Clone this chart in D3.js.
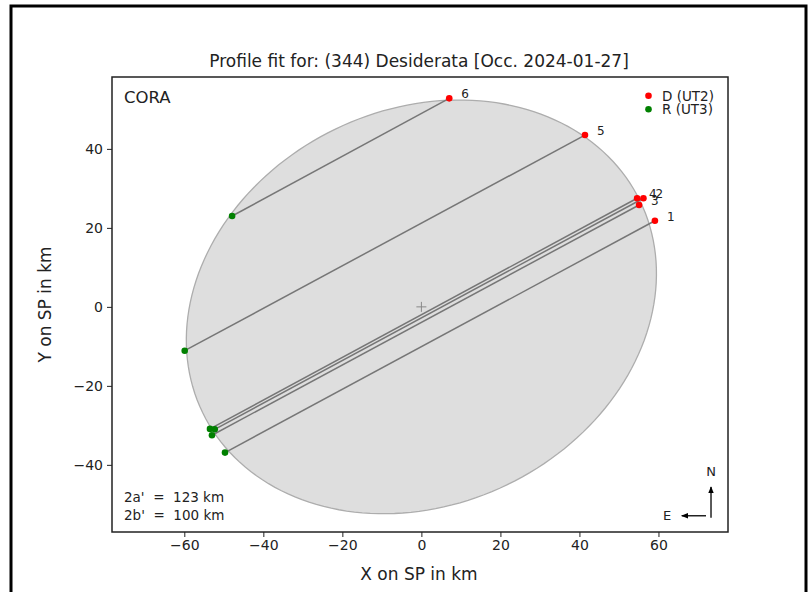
<!DOCTYPE html>
<html>
<head>
<meta charset="utf-8">
<script src="https://cdn.jsdelivr.net/npm/d3@7"></script>
<style>
html,body{margin:0;padding:0;background:#fff;}
svg{display:block;font-family:"DejaVu Sans",sans-serif;}
</style>
</head>
<body>
<svg id="chart" width="811" height="592"></svg>
<script>
// ---- data ----
const chordIds = ["1","2","3","4","5","6"];
const dX = [59.1, 56.2, 55.1, 54.6, 41.4, 7.05];   // disappearance (UT2) x
const dY = [21.8, 27.5, 25.8, 27.5, 43.5, 52.8];   // disappearance (UT2) y
const rX = [-49.7, -52.3, -53.0, -53.5, -59.9, -47.9]; // reappearance (UT3) x
const rY = [-36.9, -31.0, -32.5, -30.9, -11.1, 23.0];  // reappearance (UT3) y
const ellipseAxes = [123, 100];   // 2a', 2b' in km
const ellipseAngle = [25.8];      // deg, major axis from +x
const ellipseCenter = [0, 0];
const xTicks = [-60, -40, -20, 0, 20, 40, 60];
const yTicks = [-40, -20, 0, 20, 40];
const legendLabels = ["D (UT2)", "R (UT3)"];

// ---- layout ----
const svg = d3.select("#chart");
const L = 112, R = 728, T = 77, B = 532;
const x = d3.scaleLinear().domain([-78.3, 77.6]).range([L, R]);
const y = d3.scaleLinear().domain([-57.0, 58.2]).range([B, T]);

// outer frame
svg.append("rect").attr("x", 11).attr("y", 6).attr("width", 795).attr("height", 620)
  .attr("fill", "none").attr("stroke", "#000").attr("stroke-width", 3);

// title
svg.append("text").attr("x", (L + R) / 2 - 1).attr("y", 67).attr("text-anchor", "middle")
  .attr("font-size", 17).attr("fill", "#222")
  .text("Profile fit for: (344) Desiderata [Occ. 2024-01-27]");

const g = svg.append("g");
g.append("defs").append("clipPath").attr("id", "clip").append("rect")
  .attr("x", L).attr("y", T).attr("width", R - L).attr("height", B - T);

const plot = g.append("g").attr("clip-path", "url(#clip)");

// ellipse
const a = ellipseAxes[0] / 2, b = ellipseAxes[1] / 2;
const ang = ellipseAngle[0] * Math.PI / 180;
const pts = d3.range(0, 361, 2).map(t => {
  const tt = t * Math.PI / 180;
  const ex = a * Math.cos(tt), ey = b * Math.sin(tt);
  return [ellipseCenter[0] + ex * Math.cos(ang) - ey * Math.sin(ang),
          ellipseCenter[1] + ex * Math.sin(ang) + ey * Math.cos(ang)];
});
plot.append("path").datum(pts)
  .attr("d", d3.line().x(d => x(d[0])).y(d => y(d[1])).curve(d3.curveLinearClosed))
  .attr("fill", "#dedede").attr("stroke", "#adadad").attr("stroke-width", 1.3);

// center marker
const c0 = [x(ellipseCenter[0]), y(ellipseCenter[1])];
plot.append("path").attr("d", `M${c0[0]-5},${c0[1]}H${c0[0]+5}M${c0[0]},${c0[1]-5}V${c0[1]+5}`)
  .attr("stroke", "#888").attr("stroke-width", 1);

// chords
const chords = chordIds.map((id, i) => ({id, dx: dX[i], dy: dY[i], rx: rX[i], ry: rY[i]}));
plot.selectAll("line.chord").data(chords).enter().append("line")
  .attr("x1", d => x(d.rx)).attr("y1", d => y(d.ry))
  .attr("x2", d => x(d.dx)).attr("y2", d => y(d.dy))
  .attr("stroke", "#767676").attr("stroke-width", 1.5);

plot.selectAll("circle.r").data(chords).enter().append("circle")
  .attr("cx", d => x(d.rx)).attr("cy", d => y(d.ry)).attr("r", 3.3).attr("fill", "#008000");
plot.selectAll("circle.d").data(chords).enter().append("circle")
  .attr("cx", d => x(d.dx)).attr("cy", d => y(d.dy)).attr("r", 3.3).attr("fill", "#ff0000");

g.selectAll("text.cid").data(chords).enter().append("text")
  .attr("x", d => x(d.dx) + 12).attr("y", d => y(d.dy) + 0)
  .attr("font-size", 12).attr("fill", "#222").text(d => d.id);

// axes
const xAxis = g.append("g").attr("transform", `translate(0,${B})`)
  .call(d3.axisBottom(x).tickValues(xTicks).tickSize(5).tickPadding(3).tickFormat(d => d < 0 ? "\u2212" + Math.abs(d) : d));
const yAxis = g.append("g").attr("transform", `translate(${L},0)`)
  .call(d3.axisLeft(y).tickValues(yTicks).tickSize(5).tickPadding(4).tickFormat(d => d < 0 ? "\u2212" + Math.abs(d) : d));
[xAxis, yAxis].forEach(ax => {
  ax.select(".domain").remove();
  ax.selectAll("line").attr("stroke", "#222").attr("stroke-width", 1);
  ax.selectAll("text").attr("font-size", 14).attr("fill", "#222").attr("font-family", "DejaVu Sans");
});
g.append("rect").attr("x", L).attr("y", T).attr("width", R - L).attr("height", B - T)
  .attr("fill", "none").attr("stroke", "#222").attr("stroke-width", 1.5);

// axis labels
svg.append("text").attr("x", (L + R) / 2 - 1).attr("y", 580).attr("text-anchor", "middle")
  .attr("font-size", 17).attr("fill", "#222").text("X on SP in km");
svg.append("text").attr("transform", `translate(51,${(T + B) / 2}) rotate(-90)`).attr("text-anchor", "middle")
  .attr("font-size", 17).attr("fill", "#222").text("Y on SP in km");

// CORA label
svg.append("text").attr("x", 124).attr("y", 103).attr("font-size", 16.5).attr("fill", "#222").text("CORA");

// legend
const leg = svg.append("g");
const legColors = ["#ff0000", "#008000"];
legendLabels.forEach((lab, i) => {
  leg.append("circle").attr("cx", 648.5).attr("cy", 95.7 + i * 13.6).attr("r", 3.3).attr("fill", legColors[i]);
  leg.append("text").attr("x", 662).attr("y", 100.5 + i * 13.6).attr("font-size", 13.5).attr("fill", "#222").text(lab);
});

// ellipse size text
svg.append("text").attr("x", 124).attr("y", 502).attr("font-size", 13.5).attr("fill", "#222")
  .style("white-space", "pre").text("2a'  =  " + ellipseAxes[0] + " km");
svg.append("text").attr("x", 124).attr("y", 520).attr("font-size", 13.5).attr("fill", "#222")
  .style("white-space", "pre").text("2b'  =  " + ellipseAxes[1] + " km");

// compass
const defs = svg.append("defs");
defs.append("marker").attr("id", "ah").attr("viewBox", "0 0 10 10").attr("refX", 9).attr("refY", 5)
  .attr("markerWidth", 7).attr("markerHeight", 7).attr("markerUnits", "userSpaceOnUse").attr("orient", "auto")
  .append("path").attr("d", "M0,1L10,5L0,9Z").attr("fill", "#000");
const cx = x(73.3), cy = y(-53.4);
svg.append("line").attr("x1", cx).attr("y1", cy).attr("x2", cx).attr("y2", y(-45.6))
  .attr("stroke", "#000").attr("stroke-width", 1.3).attr("marker-end", "url(#ah)");
svg.append("line").attr("x1", cx - 5).attr("y1", cy - 2).attr("x2", x(65.9)).attr("y2", cy - 2)
  .attr("stroke", "#000").attr("stroke-width", 1.3).attr("marker-end", "url(#ah)");
svg.append("text").attr("x", cx).attr("y", y(-42.9)).attr("text-anchor", "middle").attr("font-size", 13).attr("fill", "#222").text("N");
svg.append("text").attr("x", x(62.2)).attr("y", cy + 2.5).attr("text-anchor", "middle").attr("font-size", 13).attr("fill", "#222").text("E");
</script>
</body>
</html>
